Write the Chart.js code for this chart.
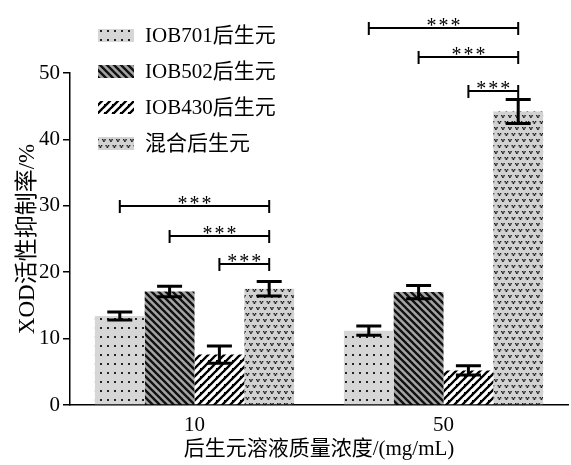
<!DOCTYPE html>
<html>
<head>
<meta charset="utf-8">
<script src="https://cdn.jsdelivr.net/npm/chart.js@4.4.0/dist/chart.umd.min.js"></script>
<style>
html, body { margin: 0; padding: 0; background: #fff; }
</style>
</head>
<body>
<canvas id="chart" width="571" height="465"></canvas>
<script>
const categories = ['10', '50'];
const seriesNames = ['IOB701后生元', 'IOB502后生元', 'IOB430后生元', '混合后生元'];
const iob701 = [13.4, 11.2];
const iob502 = [17.1, 17.0];
const iob430 = [7.6, 5.2];
const mixed = [17.5, 44.2];
const iob701Err = [0.6, 0.7];
const iob502Err = [0.8, 1.0];
const iob430Err = [1.3, 0.7];
const mixedErr = [1.1, 1.8];
const yTicks = [0, 10, 20, 30, 40, 50];
// significance brackets: category index, from series, to series, level (y value)
const sigBrackets = [
    [0, 0, 3, 30.0], [0, 1, 3, 25.5], [0, 2, 3, 21.3],
    [1, 0, 3, 56.8], [1, 1, 3, 52.4], [1, 2, 3, 47.3]
];

const serif = '"Liberation Serif", "Noto Sans CJK SC", serif';

function makeTile(w, h, draw) {
    const c = document.createElement('canvas');
    c.width = w; c.height = h;
    const g = c.getContext('2d');
    draw(g, w, h);
    return document.getElementById('chart').getContext('2d').createPattern(c, 'repeat');
}

const dotsFill = makeTile(7, 9, (g, w, h) => {
    g.fillStyle = '#d6d6d6'; g.fillRect(0, 0, w, h);
    g.fillStyle = '#222'; g.fillRect(2, 3, 2, 2);
});
const stripeFill = makeTile(7, 7, (g, w, h) => {
    g.fillStyle = '#a4a4a4'; g.fillRect(0, 0, w, h);
    g.strokeStyle = '#111'; g.lineWidth = 2.4;
    g.beginPath();
    g.moveTo(-3.5, -3.5); g.lineTo(10.5, 10.5);
    g.moveTo(-3.5, 3.5); g.lineTo(3.5, 10.5);
    g.moveTo(3.5, -3.5); g.lineTo(10.5, 3.5);
    g.stroke();
});
const brickFill = makeTile(8, 8, (g, w, h) => {
    g.fillStyle = '#000'; g.fillRect(0, 0, w, h);
    g.strokeStyle = '#fff'; g.lineWidth = 3.3; g.lineCap = 'round';
    const brick = (x, y) => {
        g.beginPath(); g.moveTo(x, y); g.lineTo(x + 3.2, y - 3.2); g.stroke();
    };
    [[0, 0], [8, 0], [0, 8], [8, 8], [-8, 0], [0, -8]].forEach(([ox, oy]) => {
        brick(1.4 + ox, 5.6 + oy);
        brick(5.4 + ox, 9.6 + oy);
    });
});
const veeFill = makeTile(7, 12, (g, w, h) => {
    g.fillStyle = '#d2d2d2'; g.fillRect(0, 0, w, h);
    g.fillStyle = '#1a1a1a';
    const vee = (x, y) => {
        g.fillRect(x, y, 1.4, 1.4);
        g.fillRect(x + 2.4, y, 1.4, 1.4);
        g.fillRect(x + 1.1, y + 1.2, 1.6, 1.8);
    };
    vee(0.5, 1);
    vee(4, 7);
    vee(-3, 7);
});

const fills = [dotsFill, stripeFill, brickFill, veeFill];
const values = [iob701, iob502, iob430, mixed];
const errors = [iob701Err, iob502Err, iob430Err, mixedErr];

const overlayPlugin = {
    id: 'overlay',
    afterDatasetsDraw(chart) {
        const ctx = chart.ctx;
        const y = chart.scales.y;
        ctx.save();
        ctx.strokeStyle = '#000';
        ctx.fillStyle = '#000';
        // error bars
        values.forEach((vals, di) => {
            const meta = chart.getDatasetMeta(di);
            meta.data.forEach((bar, i) => {
                const top = y.getPixelForValue(vals[i] + errors[di][i]);
                const bot = y.getPixelForValue(vals[i] - errors[di][i]);
                ctx.lineWidth = 3;
                ctx.beginPath();
                ctx.moveTo(bar.x, top); ctx.lineTo(bar.x, bot);
                ctx.moveTo(bar.x - 12.5, top); ctx.lineTo(bar.x + 12.5, top);
                ctx.moveTo(bar.x - 12.5, bot); ctx.lineTo(bar.x + 12.5, bot);
                ctx.stroke();
            });
        });
        // significance brackets
        ctx.lineWidth = 2;
        ctx.font = '20px ' + serif;
        ctx.letterSpacing = '2px';
        ctx.textAlign = 'center';
        ctx.textBaseline = 'alphabetic';
        sigBrackets.forEach(([ci, a, b, level]) => {
            const x1 = chart.getDatasetMeta(a).data[ci].x;
            const x2 = chart.getDatasetMeta(b).data[ci].x;
            const py = Math.round(y.getPixelForValue(level));
            ctx.beginPath();
            ctx.moveTo(x1, py); ctx.lineTo(x2, py);
            ctx.moveTo(x1, py - 6); ctx.lineTo(x1, py + 7);
            ctx.moveTo(x2, py - 6); ctx.lineTo(x2, py + 7);
            ctx.stroke();
            ctx.fillText('***', (x1 + x2) / 2 + 1, py + 4);
        });
        ctx.letterSpacing = '0px';
        // legend
        ctx.font = '21px ' + serif;
        ctx.textAlign = 'left';
        ctx.textBaseline = 'middle';
        seriesNames.forEach((name, i) => {
            const cy = 35 + i * 36;
            ctx.fillStyle = fills[i];
            ctx.fillRect(98, cy - 6, 36, 13);
            ctx.fillStyle = '#000';
            ctx.fillText(name, 145, cy + 1);
        });
        ctx.restore();
    }
};

new Chart(document.getElementById('chart'), {
    type: 'bar',
    data: {
        labels: categories,
        datasets: values.map((vals, i) => ({
            label: seriesNames[i],
            data: vals,
            backgroundColor: fills[i],
            borderWidth: 0,
            categoryPercentage: 0.8,
            barPercentage: 1.0
        }))
    },
    options: {
        responsive: false,
        animation: false,
        devicePixelRatio: 1,
        layout: { padding: { top: 73, right: 3, left: 0, bottom: 0 } },
        plugins: { legend: { display: false }, tooltip: { enabled: false } },
        scales: {
            x: {
                afterFit: s => { s.height = 60; },
                grid: { display: false },
                border: { display: true, color: '#000', width: 1.5 },
                ticks: { color: '#000', font: { family: serif, size: 21 }, padding: 0 },
                title: {
                    display: true,
                    text: '后生元溶液质量浓度/(mg/mL)',
                    color: '#000',
                    font: { family: serif, size: 21 },
                    padding: { top: 0, bottom: 3 }
                }
            },
            y: {
                min: 0,
                max: 50,
                afterFit: s => { s.width = 70; },
                afterBuildTicks: s => { s.ticks = yTicks.map(v => ({ value: v })); },
                grid: { display: true, drawOnChartArea: false, drawTicks: true, tickLength: 7, color: '#000', lineWidth: 1.5 },
                border: { display: true, color: '#000', width: 1.5 },
                ticks: { color: '#000', font: { family: serif, size: 21 }, padding: 3 },
                title: {
                    display: true,
                    text: 'XOD活性抑制率/%',
                    color: '#000',
                    font: { family: serif, size: 23 },
                    padding: { top: 14, bottom: 0 }
                }
            }
        }
    },
    plugins: [overlayPlugin]
});
</script>
</body>
</html>
